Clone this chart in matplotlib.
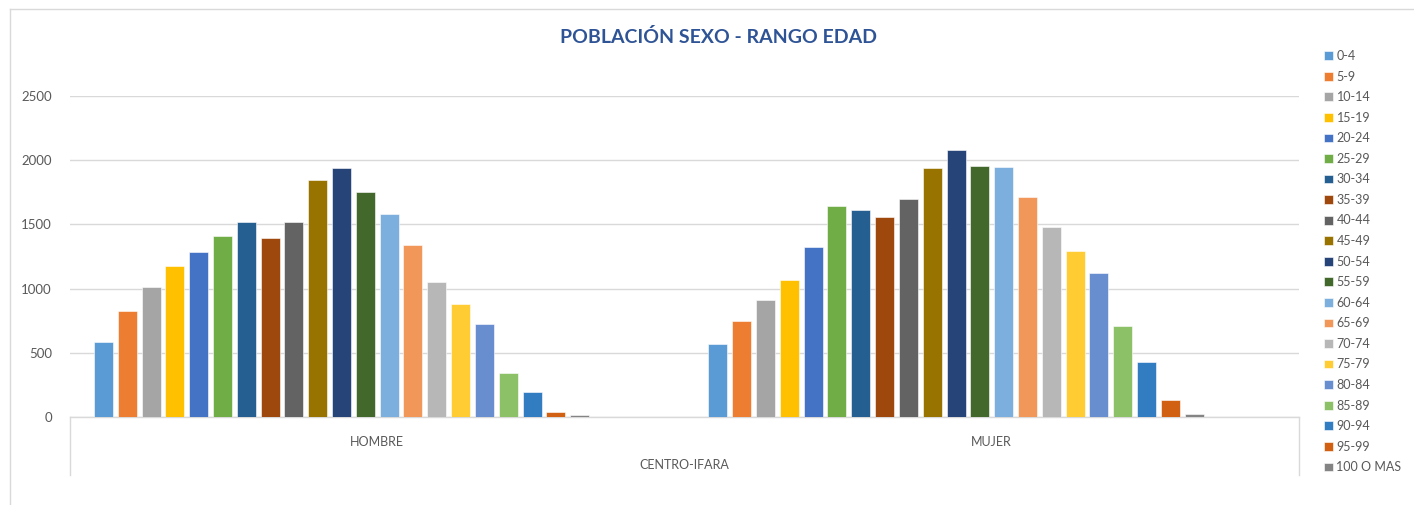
import matplotlib
matplotlib.use("Agg")
import matplotlib.pyplot as plt
import matplotlib.transforms as mtransforms
from matplotlib.lines import Line2D
import numpy as np

plt.rcParams['font.family'] = ['Lato', 'DejaVu Sans']

title = "POBLACIÓN SEXO - RANGO EDAD"
outer_category = "CENTRO-IFARA"
categories = ["HOMBRE", "MUJER"]
age_groups = ["0-4", "5-9", "10-14", "15-19", "20-24", "25-29", "30-34", "35-39",
              "40-44", "45-49", "50-54", "55-59", "60-64", "65-69", "70-74",
              "75-79", "80-84", "85-89", "90-94", "95-99", "100 O MAS"]
hombre = [588, 829, 1013, 1179, 1282, 1409, 1521, 1394, 1518, 1847, 1941,
          1754, 1580, 1342, 1055, 881, 728, 339, 192, 39, 13]
mujer = [565, 751, 912, 1065, 1327, 1643, 1614, 1557, 1697, 1941, 2081,
         1954, 1946, 1715, 1482, 1293, 1124, 707, 427, 130, 23]
colors = ["#5B9BD5", "#ED7D31", "#A5A5A5", "#FFC000", "#4472C4", "#70AD47",
          "#255E91", "#9E480E", "#636363", "#997300", "#264478", "#43682B",
          "#7CAFDD", "#F1975A", "#B7B7B7", "#FFCD33", "#698ED0", "#8CC168",
          "#327DC2", "#D26012", "#848484"]
yticks = [0, 500, 1000, 1500, 2000, 2500]

W, H = 1414, 505
fig = plt.figure(figsize=(W / 100, H / 100), dpi=100)
ax = fig.add_axes([70 / W, 88 / H, 1229 / W, 321 / H])

n_slots = 24
gap = 0.07
pitch = (1 - gap) / n_slots
bw = pitch * 0.8
values = np.array([hombre, mujer])
for i, (ag, col) in enumerate(zip(age_groups, colors)):
    xs = np.arange(len(categories)) + gap / 2 + i * pitch + (pitch - bw) / 2
    ax.bar(xs, values[:, i], width=bw, align='edge', color=col, label=ag,
           edgecolor='white', linewidth=0.4, zorder=3)

ax.set_xlim(0, len(categories))
ax.set_ylim(0, 2500)
ax.set_yticks(yticks)
ax.set_yticklabels([str(t) for t in yticks])
ax.grid(axis='y', color='#D9D9D9', linewidth=1, zorder=0)
for s in ['left', 'right', 'top']:
    ax.spines[s].set_visible(False)
ax.spines['bottom'].set_color('#D9D9D9')
ax.spines['bottom'].set_linewidth(1)
ax.tick_params(axis='y', length=0, pad=13, labelsize=9.5, labelcolor='#595959')
ax.set_xticks(np.arange(len(categories)) + 0.5)
ax.set_xticklabels(categories)
ax.tick_params(axis='x', length=0, pad=14, labelsize=9, labelcolor='#595959')

trans = mtransforms.blended_transform_factory(ax.transData, ax.transAxes)
drop = 58 / 321
for xv in [0, len(categories)]:
    ax.add_line(Line2D([xv, xv], [0, -drop], transform=trans, color='#D9D9D9',
                       linewidth=1, clip_on=False))
ax.text(len(categories) / 2, -48 / 321, outer_category, transform=trans,
        ha='center', va='center', fontsize=9, color='#595959')

fig.text(718 / W, 1 - 37 / H, title, ha='center', va='center', fontsize=14,
         fontweight='bold', color='#2F5496')

# outer frame lines
fig.add_artist(Line2D([10 / W, 10 / W], [0, 1 - 9 / H], transform=fig.transFigure,
                      color='#D9D9D9', linewidth=1))
fig.add_artist(Line2D([10 / W, 1], [1 - 9 / H, 1 - 9 / H], transform=fig.transFigure,
                      color='#D9D9D9', linewidth=1))

leg = fig.legend(loc='upper left', bbox_to_anchor=(1324 / W, 1 - 50 / H),
                 frameon=False, fontsize=9, labelcolor='#595959',
                 handlelength=0.7, handleheight=0.7, handletextpad=0.3,
                 labelspacing=0.685, borderaxespad=0, borderpad=0)

fig.savefig("out.png", dpi=100)
